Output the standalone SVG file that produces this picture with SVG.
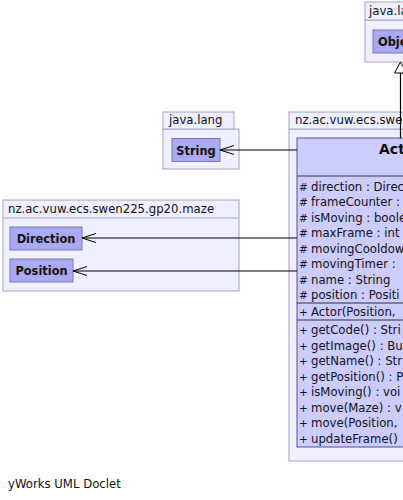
<svg xmlns="http://www.w3.org/2000/svg" width="403" height="500" viewBox="0 0 403 500">
<defs>
<style>
.pkg{fill:#efefff;stroke:#a4a4bc;stroke-width:1}
.plabel{font-family:"DejaVu Sans",sans-serif;font-size:11.7px;fill:#111}
.node{fill:#aaaaf4;stroke:#7a7ab4;stroke-width:1}
.nlabel{font-family:"DejaVu Sans",sans-serif;font-size:11.4px;font-weight:bold;fill:#111}
.cls{fill:#ccccff;stroke:#55558a;stroke-width:1}
.sep{stroke:#333;stroke-width:1}
.row{font-family:"DejaVu Sans",sans-serif;font-size:11.7px;fill:#111}
.vis{font-size:10.5px}
.edge{stroke:#000;stroke-width:1.2;fill:none}
</style>
<marker id="open" markerWidth="16" markerHeight="12" refX="14" refY="6" orient="auto" markerUnits="userSpaceOnUse">
<path d="M0,1.5 L14,6 L0,10.5" fill="none" stroke="#000" stroke-width="1"/>
</marker>
</defs>
<rect width="403" height="500" fill="#fff"/>

<g id="pkg-java-lang-obj">
<rect class="pkg" x="365" y="20" width="50" height="42"/>
<rect class="pkg" x="365" y="2" width="50" height="18"/>
<text class="plabel" x="369" y="15">java.lang</text>
</g>
<g id="node-object">
<rect class="node" x="373" y="30" width="50" height="23"/>
<text class="nlabel" x="378" y="45.5">Object</text>
</g>

<g id="pkg-java-lang">
<rect class="pkg" x="163" y="129" width="76" height="40"/>
<rect class="pkg" x="163" y="112" width="71" height="17"/>
<text class="plabel" x="169" y="124">java.lang</text>
</g>
<g id="node-string">
<rect class="node" x="172" y="138.5" width="48" height="23"/>
<text class="nlabel" x="196" y="154.5" text-anchor="middle">String</text>
</g>

<g id="pkg-maze">
<rect class="pkg" x="3" y="200" width="236" height="91"/>
<line x1="3" y1="218" x2="239" y2="218" stroke="#a4a4bc"/>
<text class="plabel" x="8" y="212.5">nz.ac.vuw.ecs.swen225.gp20.maze</text>
</g>
<g id="node-direction">
<rect class="node" x="10" y="227" width="72" height="23"/>
<text class="nlabel" x="46" y="243" text-anchor="middle">Direction</text>
</g>
<g id="node-position">
<rect class="node" x="10" y="259" width="63" height="23"/>
<text class="nlabel" x="41.5" y="275" text-anchor="middle">Position</text>
</g>

<g id="pkg-actor">
<rect class="pkg" x="289" y="129" width="140" height="332"/>
<rect class="pkg" x="289" y="112" width="140" height="17"/>
<text class="plabel" x="295" y="124">nz.ac.vuw.ecs.swen225.gp20.maze</text>
</g>
<g id="node-actor">
<rect class="cls" x="297" y="138" width="212" height="309"/>
<text x="379" y="154" font-family="DejaVu Sans,sans-serif" font-size="14" font-weight="bold" fill="#111">Actor</text>
<line class="sep" x1="297" y1="176" x2="509" y2="176"/>
<line class="sep" x1="297" y1="303" x2="509" y2="303"/>
<line class="sep" x1="297" y1="320" x2="509" y2="320"/>
<g class="row">
<text class="vis" x="299" y="190.5">#</text><text x="311" y="190.5">direction : Direc</text>
<text class="vis" x="299" y="206">#</text><text x="311" y="206">frameCounter :</text>
<text class="vis" x="299" y="221.5">#</text><text x="311" y="221.5">isMoving : boole</text>
<text class="vis" x="299" y="237">#</text><text x="311" y="237">maxFrame : int</text>
<text class="vis" x="299" y="252.5">#</text><text x="311" y="252.5">movingCooldow</text>
<text class="vis" x="299" y="268">#</text><text x="311" y="268">movingTimer :</text>
<text class="vis" x="299" y="283.5">#</text><text x="311" y="283.5">name : String</text>
<text class="vis" x="299" y="299">#</text><text x="311" y="299">position : Positi</text>
<text class="vis" x="299" y="315.5">+</text><text x="311" y="315.5">Actor(Position,</text>
<text class="vis" x="299" y="334">+</text><text x="311" y="334">getCode() : Stri</text>
<text class="vis" x="299" y="349.5">+</text><text x="311" y="349.5">getImage() : Bu</text>
<text class="vis" x="299" y="365">+</text><text x="311" y="365">getName() : Str</text>
<text class="vis" x="299" y="380.5">+</text><text x="311" y="380.5">getPosition() : P</text>
<text class="vis" x="299" y="396">+</text><text x="311" y="396">isMoving() : voi</text>
<text class="vis" x="299" y="411.5">+</text><text x="311" y="411.5">move(Maze) : v</text>
<text class="vis" x="299" y="427">+</text><text x="311" y="427">move(Position,</text>
<text class="vis" x="299" y="442.5">+</text><text x="311" y="442.5">updateFrame()</text>
</g>
</g>

<g id="connectors">
<line class="edge" x1="400.5" y1="138" x2="400.5" y2="73"/>
<path d="M400.5,62 L394.5,73 L406.5,73 Z" fill="#fff" stroke="#000" stroke-width="1"/>
<line class="edge" x1="297" y1="150" x2="220" y2="150" marker-end="url(#open)"/>
<line class="edge" x1="297" y1="238" x2="82" y2="238" marker-end="url(#open)"/>
<line class="edge" x1="297" y1="271" x2="73" y2="271" marker-end="url(#open)"/>
</g>

<text class="plabel" x="8" y="488">yWorks UML Doclet</text>
</svg>
